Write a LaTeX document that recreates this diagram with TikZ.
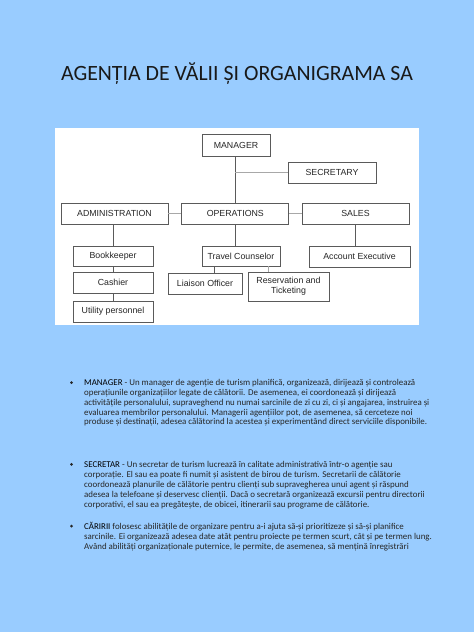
\documentclass[tikz,border=0pt]{standalone}
\usepackage{fontspec}
\setmainfont{Carlito}
\newfontfamily\chartfont{Liberation Sans}
\definecolor{bgblue}{HTML}{99CCFF}
\definecolor{txt}{HTML}{262626}
\definecolor{boxline}{HTML}{5A5A5A}
\definecolor{hline}{HTML}{A8A8A8}
\begin{document}
\begin{tikzpicture}[x=1pt,y=-1pt,
  orgbox/.style={draw=boxline,line width=0.7pt,fill=white,inner sep=0pt,
    font=\chartfont\fontsize{8.8}{10}\selectfont,align=center,text=black!85},
  vline/.style={draw=boxline,line width=0.7pt},
  lline/.style={draw=hline,line width=0.8pt},
  bodyline/.style={anchor=base west,inner sep=0pt,text=txt,font=\fontsize{8.9}{10}\selectfont},
  bulletdot/.style={circle,fill=txt,inner sep=0pt,minimum size=3pt}]
\useasboundingbox (0,0) rectangle (474,632);
\fill[bgblue] (0,0) rectangle (474,632);
\node[anchor=base,inner sep=0pt,font=\fontsize{21.8}{26}\selectfont,text=black!90] (title) at (237,80.5) {AGENȚIA DE VĂLII ȘI ORGANIGRAMA SA};
% white chart panel
\fill[white] (55,128) rectangle (419,325);
% boxes
\node[orgbox,minimum width=68pt,minimum height=22pt] (man) at (236,145) {MANAGER};
\node[orgbox,minimum width=88pt,minimum height=21pt] (sec) at (332,172.5) {SECRETARY};
\node[orgbox,minimum width=107pt,minimum height=21pt] (adm) at (114.5,213.5) {ADMINISTRATION};
\node[orgbox,minimum width=107pt,minimum height=21pt] (ops) at (235.3,213.5) {OPERATIONS};
\node[orgbox,minimum width=107pt,minimum height=21pt] (sal) at (355.5,213.5) {SALES};
\node[orgbox,minimum width=80pt,minimum height=20pt] (bk) at (113,256) {Bookkeeper};
\node[orgbox,minimum width=80pt,minimum height=21pt] (cash) at (113,282.5) {Cashier};
\node[orgbox,minimum width=80pt,minimum height=21pt] (util) at (113,311.5) {Utility personnel};
\node[orgbox,minimum width=78pt,minimum height=20pt] (tc) at (241,256) {Travel Counselor};
\node[orgbox,minimum width=74pt,minimum height=21pt] (lia) at (205,283.5) {Liaison Officer};
\node[orgbox,minimum width=81pt,minimum height=29pt] (res) at (288.5,286.5) {Reservation and\\Ticketing};
\node[orgbox,minimum width=101pt,minimum height=21pt] (acc) at (359.5,256.5) {Account Executive};
\coordinate (mx) at (235,0);
\coordinate (lx) at (214,0);
\coordinate (rx) at (268,0);
% connectors
\draw[vline] (man.south -| mx) -- (ops.north -| mx);
\draw[lline] (sec.west -| mx) -- (sec.west);
\draw[lline] (adm.east) -- (ops.west);
\draw[lline] (ops.east) -- (sal.west);
\draw[vline] (bk.north |- adm.south) -- (bk.north);
\draw[vline] (bk.south) -- (cash.north);
\draw[vline] (cash.south) -- (util.north);
\draw[vline] (ops.south -| mx) -- (tc.north -| mx);
\draw[vline] (sal.south) -- (sal.south |- acc.north);
\draw[vline] (tc.south -| lx) -- (lia.north -| lx);
\draw[lline] (tc.south -| rx) -- (res.north -| rx);
% bullets text
\node[bulletdot] (b1) at (71.5,382.7) {};
\node[bodyline] (m1) at (84,385.7) {\textcolor{black}{MANAGER} - Un manager de agenție de turism planifică, organizează, dirijează și controlează};
\node[bodyline] (m2) at (84,395.5) {operațiunile organizațiilor legate de călătorii. De asemenea, ei coordonează și dirijează};
\node[bodyline] (m3) at (84,405.3) {activitățile personalului, supraveghend nu numai sarcinile de zi cu zi, ci și angajarea, instruirea și};
\node[bodyline] (m4) at (84,415.1) {evaluarea membrilor personalului. Managerii agențiilor pot, de asemenea, să cerceteze noi};
\node[bodyline] (m5) at (84,424.9) {produse și destinații, adesea călătorind la acestea și experimentând direct serviciile disponibile.};
\node[bulletdot] (b2) at (71.5,464.3) {};
\node[bodyline] (s1) at (84,467.3) {\textcolor{black}{SECRETAR} - Un secretar de turism lucrează în calitate administrativă într-o agenție sau};
\node[bodyline] (s2) at (84,477.3) {corporație. El sau ea poate fi numit și asistent de birou de turism. Secretarii de călătorie};
\node[bodyline] (s3) at (84,487.3) {coordonează planurile de călătorie pentru clienți sub supravegherea unui agent și răspund};
\node[bodyline] (s4) at (84,497.3) {adesea la telefoane și deservesc clienții. Dacă o secretară organizează excursii pentru directorii};
\node[bodyline] (s5) at (84,507.3) {corporativi, el sau ea pregătește, de obicei, itinerarii sau programe de călătorie.};
\node[bulletdot] (b3) at (71.5,526) {};
\node[bodyline] (c1) at (84,529) {\textcolor{black}{CĂRIRII} folosesc abilitățile de organizare pentru a-i ajuta să-și prioritizeze și să-și planifice};
\node[bodyline] (c2) at (84,539) {sarcinile. Ei organizează adesea date atât pentru proiecte pe termen scurt, cât și pe termen lung.};
\node[bodyline] (c3) at (84,549) {Având abilități organizaționale puternice, le permite, de asemenea, să mențină înregistrări};
\end{tikzpicture}
\end{document}
